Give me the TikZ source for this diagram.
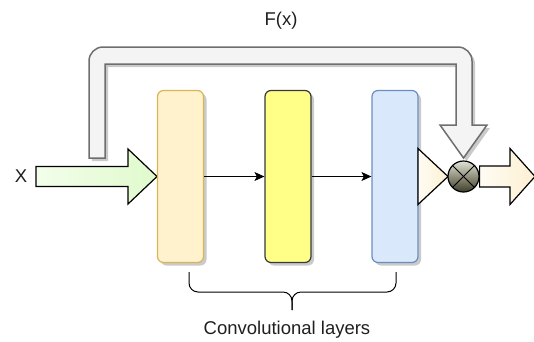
\documentclass[tikz,border=0pt]{standalone}
\usepackage{fontspec}
\setmainfont{Liberation Sans}
\usetikzlibrary{shadows,arrows.meta}
\definecolor{l1fill}{HTML}{FFF2CC}
\definecolor{l1draw}{HTML}{D6B656}
\definecolor{l2fill}{HTML}{FFFF88}
\definecolor{l2draw}{HTML}{36393D}
\definecolor{l3fill}{HTML}{DAE8FC}
\definecolor{l3draw}{HTML}{6C8EBF}
\definecolor{skipfill}{HTML}{F4F4F4}
\definecolor{skipdraw}{HTML}{6E6E6E}
\definecolor{ingreenA}{HTML}{F2FEEA}
\definecolor{ingreenB}{HTML}{E0FACC}
\definecolor{creamA}{HTML}{FFFCF4}
\definecolor{creamB}{HTML}{FDF0D2}
\definecolor{sumtop}{HTML}{E2E2D4}
\definecolor{sumbot}{HTML}{3E3E26}
\begin{document}
\begin{tikzpicture}[x=1pt,y=-1pt,font=\fontsize{18.5}{22}\selectfont]
\tikzset{
  softshadow/.style={drop shadow={shadow xshift=3pt,shadow yshift=-3pt,fill=black!35,opacity=0.6}},
  layer/.style={rounded corners=6pt,line width=1.2pt,minimum width=46pt,minimum height=172pt,inner sep=0pt,softshadow},
  flow/.style={line width=1pt,-{Stealth[length=10pt,width=9pt,inset=2.5pt]}},
  blockarrow/.style={draw=black,line width=1.2pt,line join=miter},
  label/.style={inner sep=0pt,text=black!88}
}
\useasboundingbox (0,0) rectangle (534,341);
% skip connection (big grey block arrow)
\path[fill=skipfill,draw=skipdraw,line width=1.5pt,softshadow]
  (89,158) [rounded corners=14pt] -- (89,47) -- (472,47) [sharp corners] -- (472,125)
  -- (487,125) -- (463.5,158) -- (440,125) -- (456,125) -- (456,64) -- (105,64) -- (105,158) -- cycle;
% input arrow
\coordinate (intip) at (157,176.5);
\path[blockarrow,left color=ingreenA,right color=ingreenB]
  (36,166.5) -- (128,166.5) -- (128,149) -- (intip) -- (128,204) -- (128,186.5) -- (36,186.5) -- cycle;
% layers
\node[layer,fill=l1fill,draw=l1draw] (b1) at (180.5,176.5) {};
\node[layer,fill=l2fill,draw=l2draw] (b2) at (288,176.5) {};
\node[layer,fill=l3fill,draw=l3draw] (b3) at (395,176.5) {};
\draw[flow] (b1.east) -- (b2.west);
\draw[flow] (b2.east) -- (b3.west);
% triangle
\path[blockarrow,left color=creamA,right color=creamB] (418,148.5) -- (448,176.5) -- (418,204.5) -- cycle;
% sum node
\node[circle,draw=black,line width=1.2pt,top color=sumtop,bottom color=sumbot,minimum size=31pt,inner sep=0pt] (sum) at (463.5,176.5) {};
\draw[line width=1pt] (sum.north west) -- (sum.south east);
\draw[line width=1pt] (sum.north east) -- (sum.south west);
% output arrow
\path[blockarrow,left color=creamA,right color=creamB]
  (sum.east) -- ++(0,-10.5) -- (510,166) -- (510,148.5) -- (535,176.5) -- (510,204.5) -- (510,187) -- (sum.east |- 0,187) -- cycle;
% brace
\draw[line width=1pt,rounded corners=9pt] (189,272) -- (189,292) -- (292,292) -- (292,310);
\draw[line width=1pt,rounded corners=9pt] (396,272) -- (396,292) -- (292,292) -- (292,310);
% labels
\node[label] (fx) at (281,21) {F(x)};
\node[label] (xin) at (21,176.5) {X};
\node[label] (conv) at (287,330) {Convolutional layers};
\end{tikzpicture}
\end{document}
